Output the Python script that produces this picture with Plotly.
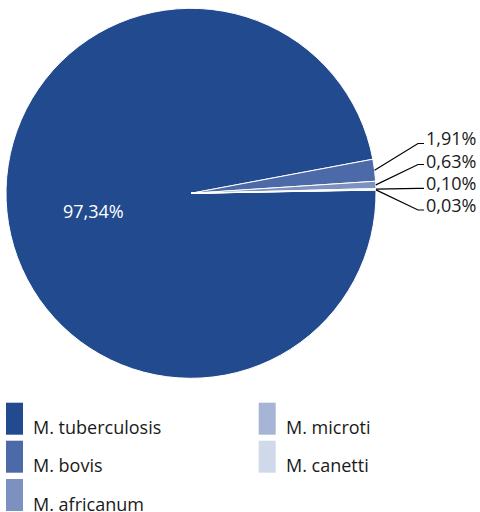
import math
import plotly.graph_objects as go

# Species shares of isolates (percent)
species = ["M. tuberculosis", "M. bovis", "M. africanum", "M. microti", "M. canetti"]
shares = [97.34, 1.91, 0.63, 0.10, 0.03]
colors = ["#214A8F", "#4B6AA7", "#7C91C0", "#A6B5D6", "#D0D9EA"]

W, H = 480, 512
CX, CY, R = 191, 193.3, 185      # pie centre and radius in pixels
ROT = 89                          # start angle, degrees clockwise from 12 o'clock
FONT = "Open Sans"
TEXT = "#1a1a1a"

# call-out layout for the small slices (px): leader end rows and text centres
callout_rows = [143.5, 164.5, 188.3, 210]
callout_text_y = [137.8, 160.5, 183, 204.5]


def px(x, y):
    return x / W, 1 - y / H


def fmt(v):
    return f"{v:.2f}".replace(".", ",") + "%"


fig = go.Figure(
    go.Pie(
        labels=species,
        values=shares,
        sort=False,
        direction="clockwise",
        rotation=ROT,
        marker=dict(colors=colors, line=dict(color="white", width=1)),
        textinfo="none",
        hoverinfo="label+value",
        domain=dict(x=[(CX - R) / W, (CX + R) / W],
                    y=[1 - (CY + R) / H, 1 - (CY - R) / H]),
        showlegend=False,
    )
)

shapes = []
annotations = []

# label of the dominant slice, inside the pie
x0, y0 = px(93, 211)
annotations.append(dict(x=x0, y=y0, xref="paper", yref="paper", text=fmt(shares[0]),
                        showarrow=False, xanchor="center", yanchor="middle",
                        font=dict(family=FONT, size=18, color="white")))

# call-out lines and labels for the small slices
total = sum(shares)
start = ROT
mids = []
for v in shares:
    sweep = v / total * 360
    mids.append(start + sweep / 2)
    start += sweep

for i, row_y, text_y in zip(range(1, len(shares)), callout_rows, callout_text_y):
    a = math.radians(mids[i])
    ex, ey = CX + R * math.sin(a), CY - R * math.cos(a)
    p0 = px(ex, ey)
    p1 = px(418, row_y)
    p2 = px(424, row_y)
    shapes.append(dict(type="path", xref="paper", yref="paper",
                       path=f"M {p0[0]},{p0[1]} L {p1[0]},{p1[1]} L {p2[0]},{p2[1]}",
                       line=dict(color="black", width=1.2)))
    tx, ty = px(425, text_y)
    annotations.append(dict(x=tx, y=ty, xref="paper", yref="paper", text=fmt(shares[i]),
                            showarrow=False, xanchor="left", yanchor="middle",
                            borderpad=0,
                            font=dict(family=FONT, size=18, color=TEXT)))

# legend: two columns of tall swatches
col_x = [6, 258.7]
row_top = [402.7, 440.7, 479]
SW, SH = 17, 32
for k, (name, col) in enumerate(zip(species, colors)):
    c, r = divmod(k, 3)
    lx, ty = col_x[c], row_top[r]
    a0 = px(lx, ty)
    a1 = px(lx + SW, ty + SH)
    shapes.append(dict(type="rect", xref="paper", yref="paper",
                       x0=a0[0], x1=a1[0], y0=a1[1], y1=a0[1],
                       fillcolor=col, line=dict(width=0)))
    t = px(lx + SW + 9, ty + SH - 7.5)
    annotations.append(dict(x=t[0], y=t[1], xref="paper", yref="paper", text=name,
                            showarrow=False, xanchor="left", yanchor="middle",
                            borderpad=0,
                            font=dict(family=FONT, size=18, color=TEXT)))

fig.update_layout(
    width=W, height=H,
    margin=dict(l=0, r=0, t=0, b=0),
    paper_bgcolor="white",
    plot_bgcolor="white",
    shapes=shapes,
    annotations=annotations,
    showlegend=False,
)

fig.write_html("out.html")
